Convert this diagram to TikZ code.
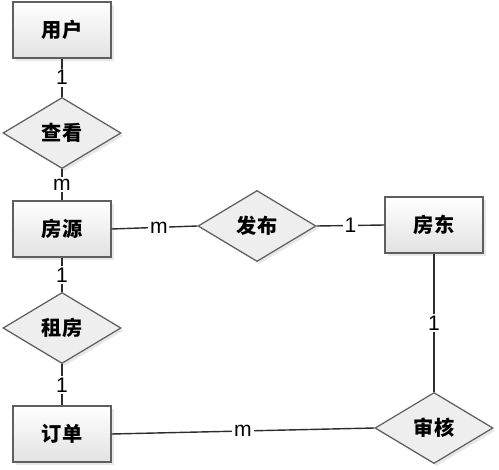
\documentclass[tikz,border=0pt]{standalone}
\usepackage{fontspec}
\setmainfont{Liberation Sans}
\newfontfamily\cjk{Noto Sans CJK SC}
\usetikzlibrary{shapes.geometric,shadows}
\definecolor{edgegray}{RGB}{95,95,95}
\definecolor{linegray}{RGB}{45,45,45}
\definecolor{boxgray}{RGB}{226,226,226}
\definecolor{diagray}{RGB}{238,238,238}
\begin{document}
\begin{tikzpicture}[x=0.02cm,y=-0.02cm,
    entity/.style={draw=edgegray, line width=0.7pt, top color=white, bottom color=boxgray,
      minimum width=1.96cm, minimum height=1.12cm, inner sep=0pt,
      drop shadow={shadow xshift=1.5pt, shadow yshift=-1.5pt, fill=black!18},
      font=\cjk\bfseries\fontsize{11.5}{13}\selectfont},
    relation/.style={diamond, draw=edgegray, line width=0.7pt, fill=diagray,
      minimum width=2.36cm, minimum height=1.42cm, inner sep=0pt,
      drop shadow={shadow xshift=1.5pt, shadow yshift=-1.5pt, fill=black!18},
      font=\cjk\bfseries\fontsize{11.5}{13}\selectfont},
    link/.style={draw=linegray, line width=0.8pt},
    card/.style={fill=white, inner sep=1pt, font=\fontsize{12}{13}\selectfont}]
  \useasboundingbox (0,0) rectangle (499,469);

  % entities
  \node[entity] (yonghu)  at (62,30)   {用户};
  \node[entity] (fangyuan) at (62,229) {房源};
  \node[entity] (dingdan) at (62,434)  {订单};
  \node[entity] (fangdong) at (434,225) {房东};

  % relations
  \node[relation] (chakan) at (62,133)  {查看};
  \node[relation] (zufang) at (62,328)  {租房};
  \node[relation] (fabu)   at (257,226) {发布};
  \node[relation] (shenhe) at (434,428) {审核};

  % links
  \draw[link] (yonghu) -- node[card] {1} (chakan);
  \draw[link] (chakan) -- node[card] {m} (fangyuan);
  \draw[link] (fangyuan) -- node[card] {1} (zufang);
  \draw[link] (zufang) -- node[card] {1} (dingdan);
  \draw[link] (fangyuan.east) -- node[card, pos=0.55] {m} (fabu.west);
  \draw[link] (fabu.east) -- node[card] {1} (fangdong.west);
  \draw[link] (fangdong) -- node[card] {1} (shenhe);
  \draw[link] (dingdan.east) -- node[card] {m} (shenhe.west);
\end{tikzpicture}
\end{document}
